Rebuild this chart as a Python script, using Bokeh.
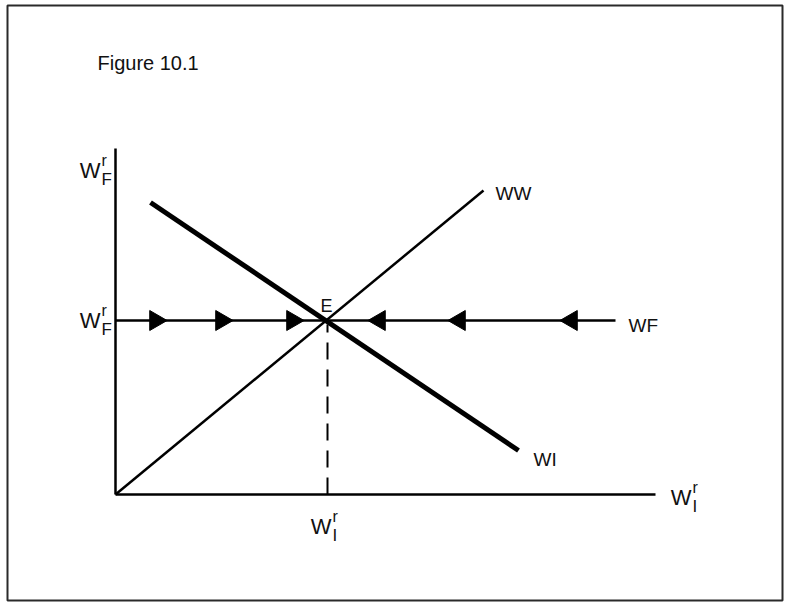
import math
from bokeh.plotting import figure
from bokeh.models import Range1d, Label
from bokeh.embed import file_html
from bokeh.resources import INLINE

# ---- data (model units: origin of the diagram at 0,0) ----
x_axis_end = 540
y_axis_end = 346
e_point = (211, 174)
ww_x = [0, 368]
ww_y = [0, 304]
wi_x = [35, 403]
wi_y = [292, 44]
wf_x = [0, 500]
wf_y = [174, 174]
arrow_right_x = [40, 106, 177]
arrow_left_x = [264, 344, 456]
curve_names = ["WW", "WF", "WI"]

FONT = "Liberation Sans"

p = figure(width=785, height=603, output_backend="svg", toolbar_location=None,
           x_range=Range1d(-108, 667), y_range=Range1d(-106, 489),
           min_border=0, min_border_left=7, min_border_right=3,
           min_border_top=5, min_border_bottom=3)
p.axis.visible = False
p.grid.visible = False
p.outline_line_color = "#2a2a2a"
p.outline_line_width = 2
p.background_fill_color = "white"
p.border_fill_color = "white"

# axes
p.line([0, 0], [0, y_axis_end], line_color="black", line_width=2.5)
p.line([0, x_axis_end], [0, 0], line_color="black", line_width=2.5)

# curves
p.line(ww_x, ww_y, line_color="black", line_width=2.5)
p.line(wi_x, wi_y, line_color="black", line_width=5)
p.line(wf_x, wf_y, line_color="black", line_width=2.5)

# dashed drop line
p.line([e_point[0] + 1, e_point[0] + 1], [0, e_point[1] - 4], line_color="black",
       line_width=2, line_dash="17 10")

# arrows
p.scatter(arrow_right_x, [wf_y[0]] * len(arrow_right_x), marker="triangle", size=20,
          angle=-math.pi / 2, fill_color="black", line_color="black")
p.scatter(arrow_left_x, [wf_y[0]] * len(arrow_left_x), marker="triangle", size=20,
          angle=math.pi / 2, fill_color="black", line_color="black")

def lab(x, y, t, size="16px", align="left", baseline="middle"):
    p.add_layout(Label(x=x, y=y, text=t, text_font=FONT, text_font_size=size,
                       text_align=align, text_baseline=baseline, text_color="#111111"))

# title
lab(-18, 432, "Figure 10.1", size="20px", baseline="alphabetic")

# curve labels
lab(380, 301, curve_names[0], size="19px")
lab(513, 169, curve_names[1], size="19px")
lab(418, 35, curve_names[2], size="19px")
lab(e_point[0], 189, "E", size="18px", align="center", baseline="alphabetic")

def wlabel(x, y, sub):
    # x = right edge of W, y = middle of W
    lab(x, y, "W", size="22px", align="right")
    lab(x + 1, y + 10, "r", size="16px")
    lab(x + 1, y - 9, sub, size="17px")

wlabel(-15, 324, "F")
wlabel(-15, e_point[1], "F")
wlabel(576, -3, "I")
wlabel(216, -32, "I")

open("out.html", "w").write(file_html(p, INLINE))
